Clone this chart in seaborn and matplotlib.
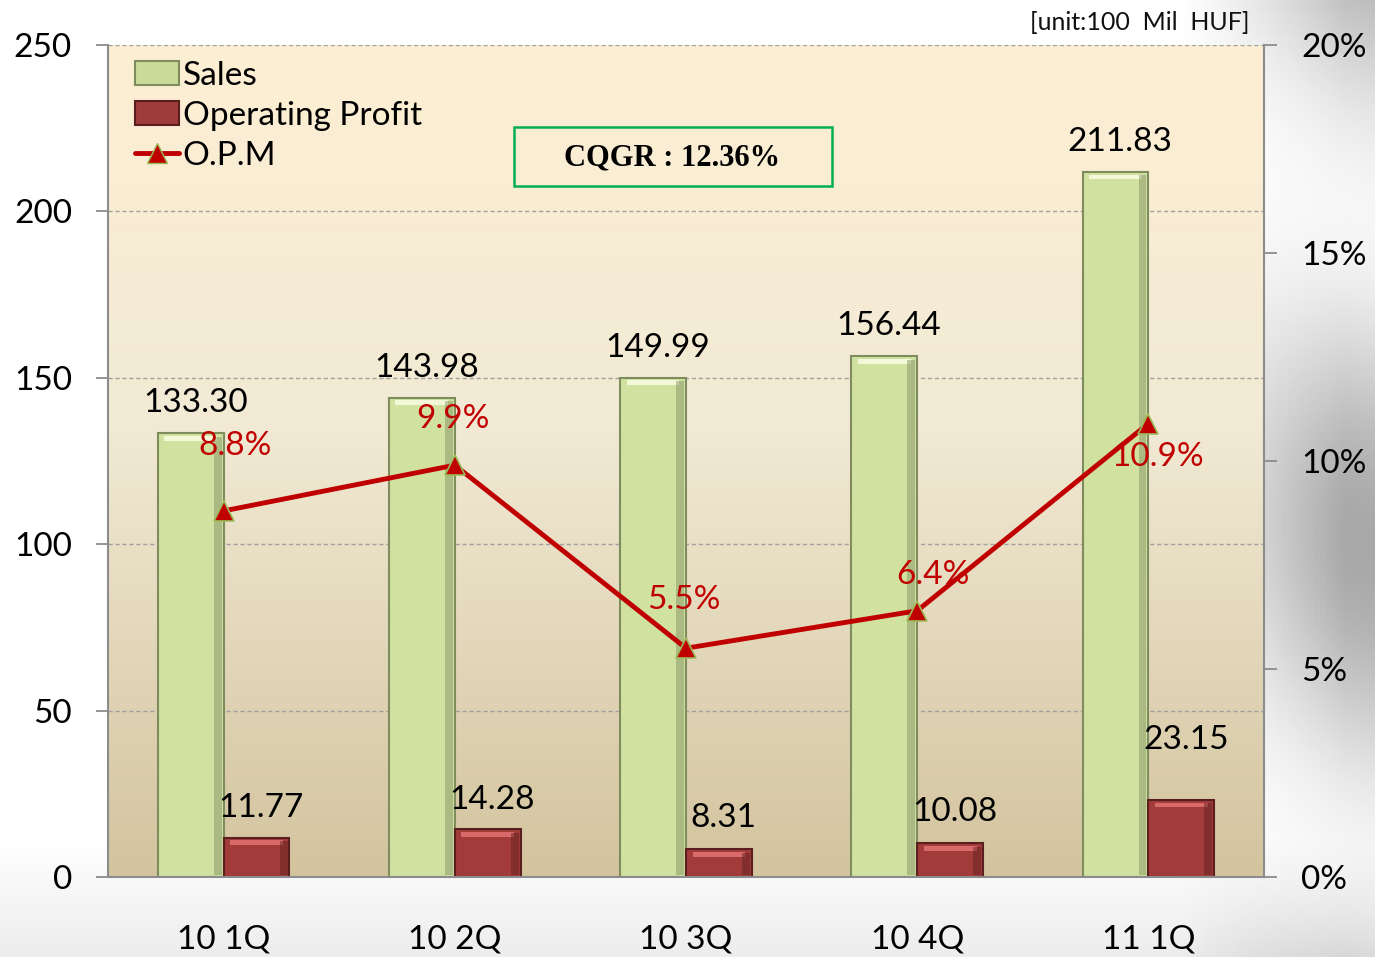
import numpy as np
import pandas as pd
import matplotlib
matplotlib.use("Agg")
import matplotlib.pyplot as plt
import seaborn as sns
from matplotlib.patches import Rectangle
from matplotlib.lines import Line2D

quarters = ["10 1Q", "10 2Q", "10 3Q", "10 4Q", "11 1Q"]
sales = [133.30, 143.98, 149.99, 156.44, 211.83]
profit = [11.77, 14.28, 8.31, 10.08, 23.15]
opm = [8.8, 9.9, 5.5, 6.4, 10.9]
series_names = ["Sales", "Operating Profit"]

sns.set_theme(style="white")
plt.rcParams["font.family"] = ["Lato", "DejaVu Sans"]
plt.rcParams["text.color"] = "black"
plt.rcParams["xtick.color"] = "black"
plt.rcParams["ytick.color"] = "black"
plt.rcParams["xtick.labelcolor"] = "black"
plt.rcParams["ytick.labelcolor"] = "black"

FS = 24

df = pd.DataFrame({
    "quarter": quarters * 2,
    "value": sales + profit,
    "series": [series_names[0]] * 5 + [series_names[1]] * 5,
})

fig = plt.figure(figsize=(13.75, 9.57), dpi=100)

# figure background: white with grey swirl on right
bg = fig.add_axes([0, 0, 1, 1], zorder=-10)
xx, yy = np.meshgrid(np.linspace(0, 1, 300), np.linspace(0, 1, 200))
g = 1 - 0.34 * np.clip((xx - 0.86) / 0.12, 0, 1) * (0.55 + 0.45 * np.sin(yy * 9 + xx * 4))
g = g - 0.07 * np.clip((0.12 - yy) / 0.12, 0, 1)
bg.imshow(np.dstack([g, g, g]), extent=[0, 1, 0, 1], aspect="auto", origin="lower", vmin=0, vmax=1)
bg.axis("off")

ax = fig.add_axes([108 / 1375, 1 - 877 / 957, (1264 - 108) / 1375, (877 - 45) / 957])

# plot-area gradient
top = np.array([0xFD, 0xEF, 0xD3]) / 255
mid = np.array([0xF2, 0xEA, 0xD5]) / 255
bot = np.array([0xD3, 0xC4, 0x9E]) / 255
cols = np.zeros((256, 1, 3))
for i, tv in enumerate(np.linspace(0, 1, 256)):
    if tv < 0.55:
        c = bot + (mid - bot) * (tv / 0.55)
    else:
        c = mid + (top - mid) * ((tv - 0.55) / 0.45)
    cols[i, 0] = c
ax.imshow(cols, extent=[-0.5, 4.5, 0, 250], aspect="auto", origin="lower", zorder=0)

sns.barplot(data=df, x="quarter", y="value", hue="series", ax=ax, width=0.57,
            palette=["#D0E1A0", "#A13C3B"], saturation=1, legend=False, zorder=3)
ax.set_xlim(-0.5, 4.5)
ax.set_ylim(0, 250)

edge_cols = ["#7E8C5E", "#5B1E1E"]
hi_cols = ["#F2F8D8", "#D86A6A"]
n = len(quarters)
bar_patches = list(ax.patches[:2 * n])
for k, p in enumerate(bar_patches):
    s = k // n
    p.set_edgecolor(edge_cols[s])
    p.set_linewidth(1.5)
    x0, w, h = p.get_x(), p.get_width(), p.get_height()
    ax.add_patch(Rectangle((x0 + w * 0.1, h - 2.2), w * 0.8, 1.4, color=hi_cols[s], zorder=4, lw=0))
    ax.add_patch(Rectangle((x0 + w * 0.85, 0.5), w * 0.12, h - 1.5,
                           color=edge_cols[s], alpha=0.45, zorder=4, lw=0))

# grid
for v in [50, 100, 150, 200, 250]:
    ax.axhline(v, color="#A0A0A0", lw=1, ls=(0, (3, 2)), zorder=1)

ax.set_yticks([0, 50, 100, 150, 200, 250])
ax.set_xticks(range(n))
ax.set_xticklabels(quarters)
ax.set_xticks(np.arange(-0.5, n, 1), minor=True)
ax.tick_params(axis="x", which="major", length=0, pad=34, labelsize=FS, colors="black")
ax.tick_params(axis="x", which="minor", length=8, width=1.3, color="#8C8C8C", direction="out")
ax.tick_params(axis="y", length=9, width=1.3, color="#8C8C8C", pad=17, labelsize=FS,
               left=True, labelcolor="black")
ax.set_xlabel("")
ax.set_ylabel("")
for side in ["top", "right"]:
    ax.spines[side].set_visible(False)
for side in ["left", "bottom"]:
    ax.spines[side].set_color("#8C8C8C")
    ax.spines[side].set_linewidth(1.5)
    ax.spines[side].set_zorder(5)

# data labels
sales_dy = [9, 9, 9, 9, 9]
profit_dy = [9, 9, 9.5, 9.5, 18]
sales_patches = bar_patches[:n]
profit_patches = bar_patches[n:2 * n]
for i in range(n):
    sp = sales_patches[i]
    ax.text(sp.get_x() + sp.get_width() / 2 + 0.02, sales[i] + sales_dy[i], f"{sales[i]:.2f}",
            ha="center", va="center", fontsize=FS, color="black", zorder=6)
    pp = profit_patches[i]
    ax.text(pp.get_x() + pp.get_width() / 2 + 0.02, profit[i] + profit_dy[i], f"{profit[i]:.2f}",
            ha="center", va="center", fontsize=FS, color="black", zorder=6)

# twin axis for OPM
ax2 = ax.twinx()
ax2.set_ylim(0, 20)
sns.lineplot(x=np.arange(n), y=opm, ax=ax2, color="#C00000", lw=3.5, marker="^",
             markersize=15, markerfacecolor="#C00000", markeredgecolor="#9BBB59",
             markeredgewidth=1.2, zorder=7)
ax2.set_xlim(-0.5, 4.5)
ax2.set_ylim(0, 20)
ax2.set_yticks([0, 5, 10, 15, 20])
ax2.set_yticklabels([f"{v}%" for v in [0, 5, 10, 15, 20]])
ax2.tick_params(axis="y", length=9, width=1.3, color="#8C8C8C", pad=18, labelsize=FS,
                right=True, labelcolor="black")
ax2.set_ylabel("")
ax2.grid(False)
for side in ["top", "left", "bottom"]:
    ax2.spines[side].set_visible(False)
ax2.spines["right"].set_color("#8C8C8C")
ax2.spines["right"].set_linewidth(1.5)

opm_dx = [0.05, -0.01, -0.01, 0.07, 0.04]
opm_dy = [1.55, 1.1, 1.15, 0.85, -0.8]
for i in range(n):
    ax2.text(i + opm_dx[i], opm[i] + opm_dy[i], f"{opm[i]:.1f}%", color="#C00000",
             ha="center", va="center", fontsize=FS, zorder=8)

# legend
handles = [
    Rectangle((0, 0), 1, 1, facecolor="#C9DB9A", edgecolor="#7E8C5E", lw=1.5),
    Rectangle((0, 0), 1, 1, facecolor="#9E3B3B", edgecolor="#5B1E1E", lw=1.5),
    Line2D([0], [0], color="#C00000", lw=3.5, marker="^", markersize=15,
           markerfacecolor="#C00000", markeredgecolor="#9BBB59"),
]
leg = ax2.legend(handles, series_names + ["O.P.M"], loc="upper left",
                 bbox_to_anchor=(0.012, 0.997), frameon=False, fontsize=FS,
                 handlelength=1.3, handleheight=0.7, handletextpad=0.12, labelspacing=0.30,
                 borderaxespad=0)
for t in leg.get_texts():
    t.set_color("black")

# CQGR box
fig.patches.append(Rectangle((514 / 1375, 1 - 186 / 957), (832 - 514) / 1375, (186 - 127) / 957,
                             transform=fig.transFigure, facecolor="none", edgecolor="#00B050",
                             lw=1.8, zorder=10))
fig.text(672 / 1375, 1 - 158 / 957, "CQGR : 12.36%", ha="center", va="center",
         fontsize=22, fontweight="bold", family="Liberation Serif", color="black")

# unit label
fig.text(1250 / 1375, 1 - 22 / 957, "[unit:100  Mil  HUF]", ha="right", va="center",
         fontsize=18, color="#111111")

fig.savefig("out.png", dpi=100)
